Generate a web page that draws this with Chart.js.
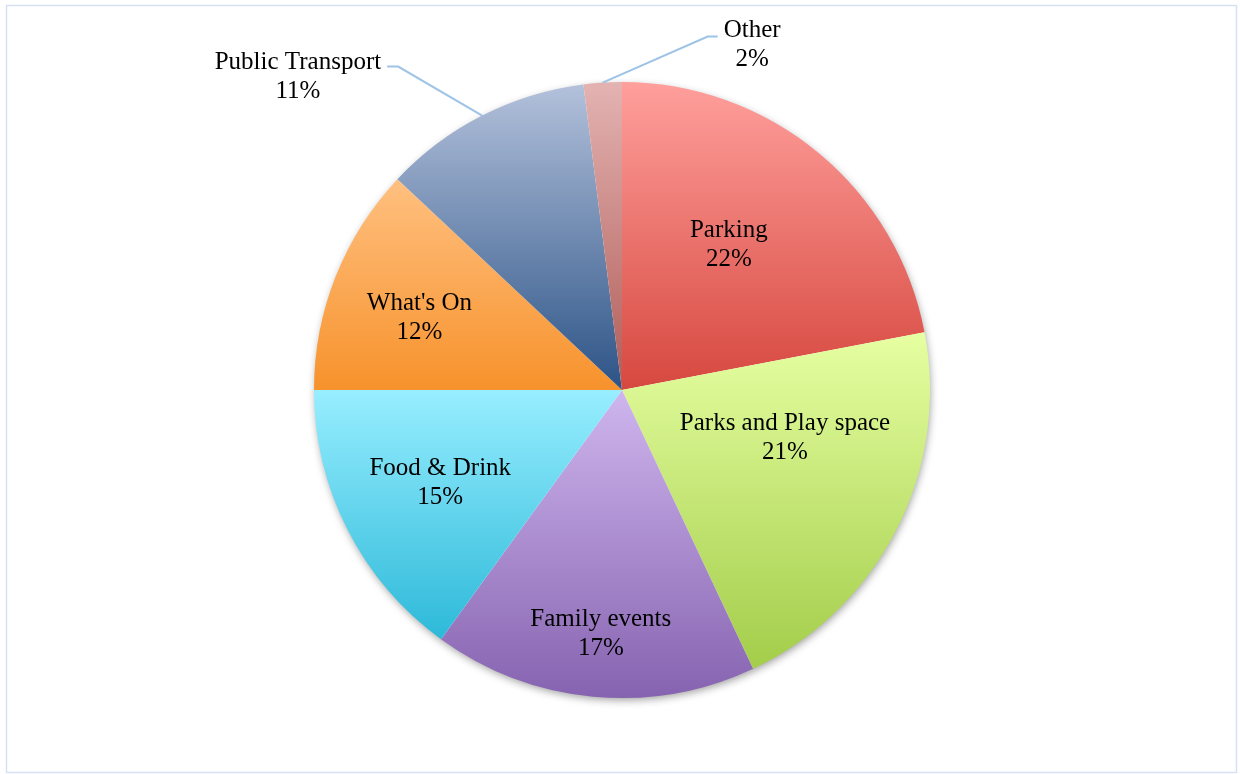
<!DOCTYPE html>
<html>
<head>
<meta charset="utf-8">
<title>Priorities</title>
<script src="https://cdn.jsdelivr.net/npm/chart.js@4/dist/chart.umd.min.js"></script>
<style>
  html, body { margin: 0; padding: 0; background: #fff; }
  #wrap { position: relative; width: 1240px; height: 774px; }
</style>
</head>
<body>
<div id="wrap"><canvas id="pie"></canvas></div>
<script>
  const categories = ['Parking', 'Parks and Play space', 'Family events', 'Food & Drink', "What's On", 'Public Transport', 'Other'];
  const shares = [22, 21, 17, 15, 12, 11, 2];

  // top / bottom colour of each slice's vertical gradient
  const lightColors = ['#FF9F9C', '#E6FFA2', '#CFB6EE', '#97EEFF', '#FFC080', '#B3C1DB', '#E3B3B2'];
  const darkColors = ['#D6483F', '#A3CD4A', '#8663B0', '#2DB9D9', '#F7922C', '#2C5386', '#B05C57'];

  const fontFamily = '"Liberation Serif", "Times New Roman", serif';
  const fontSize = 25;
  const lineGap = 29;
  const textNudge = 2; // Liberation sits a touch high with 'middle' baseline

  // where each label sits: inside labels by radius fraction and angle tweak (deg),
  // outside labels by elbow offset from the rim and a short horizontal tail
  const labelPlacement = [
    { radius: 0.59, turn: -3.6 },
    { radius: 0.55, turn: -11.2 },
    { radius: 0.79, turn: -0.4 },
    { radius: 0.66, turn: 0.4 },
    { radius: 0.70, turn: -1.6 },
    { elbow: [-84, -49], tail: -11, dy: 8, gap: 6 },
    { elbow: [105, -46], tail: 10, dy: 6, gap: 6 },
  ];

  const total = shares.reduce((a, b) => a + b, 0);

  const sliceGradient = (context) => {
    const { chart, dataIndex } = context;
    const area = chart.chartArea;
    if (!area) return lightColors[dataIndex];
    const cx = (area.left + area.right) / 2;
    const cy = (area.top + area.bottom) / 2;
    const r = Math.min(area.right - area.left, area.bottom - area.top) / 2;
    const before = shares.slice(0, dataIndex).reduce((a, b) => a + b, 0);
    const a0 = -Math.PI / 2 + 2 * Math.PI * before / total;
    const a1 = a0 + 2 * Math.PI * shares[dataIndex] / total;
    const ys = [cy, cy + r * Math.sin(a0), cy + r * Math.sin(a1)];
    let top = Math.min(...ys);
    let bottom = Math.max(...ys);
    const within = (a) => {
      for (let k = -1; k <= 1; k++) {
        const t = a + k * 2 * Math.PI;
        if (t >= a0 && t <= a1) return true;
      }
      return false;
    };
    if (within(-Math.PI / 2)) top = cy - r;
    if (within(Math.PI / 2)) bottom = cy + r;
    const g = chart.ctx.createLinearGradient(0, top, 0, bottom);
    g.addColorStop(0, lightColors[dataIndex]);
    g.addColorStop(1, darkColors[dataIndex]);
    return g;
  };

  // white page, thin frame and a soft shadow under the pie
  const backdrop = {
    id: 'backdrop',
    beforeDraw(chart) {
      const { ctx, width, height } = chart;
      ctx.save();
      ctx.fillStyle = '#fff';
      ctx.fillRect(0, 0, width, height);
      ctx.strokeStyle = '#D6E1F2';
      ctx.lineWidth = 1.5;
      ctx.strokeRect(6.5, 5.5, 1230, 767);
      ctx.restore();
    },
    beforeDatasetsDraw(chart) {
      const arc = chart.getDatasetMeta(0).data[0];
      if (!arc) return;
      const { ctx } = chart;
      ctx.save();
      ctx.shadowColor = 'rgba(0, 0, 0, 0.4)';
      ctx.shadowBlur = 8;
      ctx.shadowOffsetX = 1;
      ctx.shadowOffsetY = 3;
      ctx.fillStyle = '#fff';
      ctx.beginPath();
      ctx.arc(arc.x, arc.y, arc.outerRadius - 1, 0, Math.PI * 2);
      ctx.fill();
      ctx.restore();
    },
  };

  const sliceLabels = {
    id: 'sliceLabels',
    afterDatasetsDraw(chart) {
      const { ctx } = chart;
      const arcs = chart.getDatasetMeta(0).data;
      ctx.save();
      ctx.font = `${fontSize}px ${fontFamily}`;
      ctx.fillStyle = '#000';
      ctx.textBaseline = 'middle';
      ctx.textAlign = 'center';
      arcs.forEach((arc, i) => {
        const lines = [categories[i], Math.round(shares[i] / total * 100) + '%'];
        const place = labelPlacement[i];
        const mid = (arc.startAngle + arc.endAngle) / 2;
        let x, y;
        if (place.elbow) {
          const ex = arc.x + Math.cos(mid) * arc.outerRadius;
          const ey = arc.y + Math.sin(mid) * arc.outerRadius;
          const kx = ex + place.elbow[0];
          const ky = ey + place.elbow[1];
          const tx = kx + place.tail;
          ctx.beginPath();
          ctx.moveTo(ex, ey);
          ctx.lineTo(kx, ky);
          ctx.lineTo(tx, ky);
          ctx.strokeStyle = '#9DC3E6';
          ctx.lineWidth = 2;
          ctx.stroke();
          const w = Math.max(...lines.map((s) => ctx.measureText(s).width));
          x = tx + Math.sign(place.tail) * (w / 2 + place.gap);
          y = ky + place.dy;
        } else {
          const a = mid + place.turn * Math.PI / 180;
          x = arc.x + Math.cos(a) * arc.outerRadius * place.radius;
          y = arc.y + Math.sin(a) * arc.outerRadius * place.radius;
        }
        y += textNudge;
        ctx.fillText(lines[0], x, y - lineGap / 2);
        ctx.fillText(lines[1], x, y + lineGap / 2);
      });
      ctx.restore();
    },
  };

  new Chart(document.getElementById('pie'), {
    type: 'pie',
    data: {
      labels: categories,
      datasets: [{
        data: shares,
        backgroundColor: sliceGradient,
        borderWidth: 0,
      }],
    },
    options: {
      responsive: true,
      maintainAspectRatio: false,
      animation: false,
      layout: {
        padding: { top: 82, bottom: 76, left: 314, right: 310 },
      },
      plugins: {
        legend: { display: false },
        tooltip: { enabled: false },
      },
    },
    plugins: [backdrop, sliceLabels],
  });
</script>
</body>
</html>
